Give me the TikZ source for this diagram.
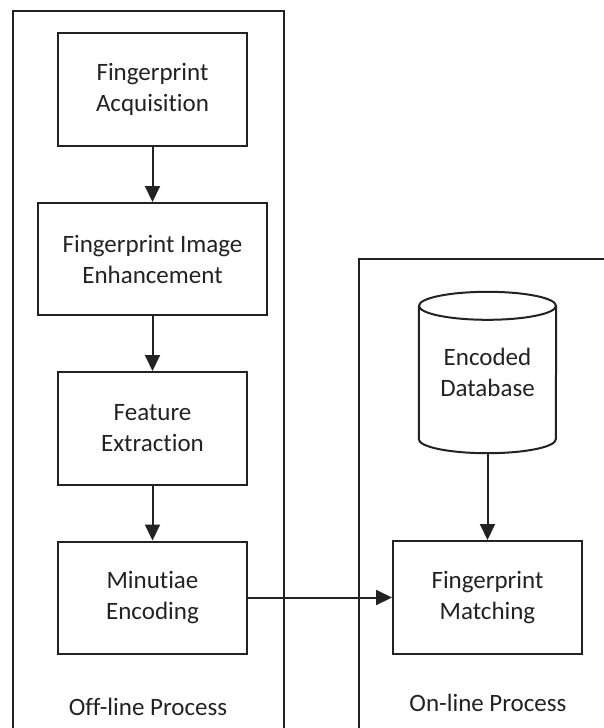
\documentclass[tikz,border=0pt]{standalone}
\usepackage{fontspec}
\setmainfont{Carlito}[Ligatures={NoCommon,NoRare,NoContextual}]
\usetikzlibrary{arrows.meta,calc}
\definecolor{ink}{HTML}{222222}
\tikzset{
  procbox/.style={draw=ink, line width=2pt, minimum width=189pt, minimum height=113pt, align=center, text=ink, inner sep=0pt, font=\fontsize{25}{31}\selectfont},
  conn/.style={draw=ink, line width=2pt, -{Triangle[length=16pt,width=15pt]}},
  frame/.style={draw=ink, line width=2pt},
  lbl/.style={text=ink, font=\fontsize{25}{31}\selectfont, inner sep=0pt}
}
\begin{document}
\begin{tikzpicture}[x=1pt,y=-1pt]
\useasboundingbox (0,0) rectangle (603,728);
% containers
\draw[frame] (13,730) -- (13,11) -- (284,11) -- (284,730);
\draw[frame] (359,730) -- (359,259) -- (605,259);
% boxes
\node[procbox] (acq) at (152.5,89.5) {Fingerprint\\Acquisition};
\node[procbox, minimum width=229pt, minimum height=112pt] (enh) at (152.5,259) {Fingerprint Image\\Enhancement};
\node[procbox] (feat) at (152.5,428.5) {Feature\\Extraction};
\node[procbox, minimum height=112pt] (enc) at (152.5,597.5) {Minutiae\\Encoding};
\node[procbox] (match) at (487.5,597.5) {Fingerprint\\Matching};
% database cylinder
\node[draw=none, minimum width=137pt, minimum height=161pt, inner sep=0pt, align=center, text=ink, font=\fontsize{25}{31}\selectfont] (db) at (487.5,372.5) {Encoded\\Database};
\draw[frame] ($(db.north)+(0,14)$) ellipse [x radius=68.5, y radius=14];
\draw[frame] ($(db.north west)+(0,14)$) -- ($(db.south west)+(0,-14)$)
  arc[start angle=180, end angle=360, x radius=68.5, y radius=-14]
  -- ($(db.north east)+(0,14)$);
% connectors
\draw[conn] (acq) -- (enh);
\draw[conn] (enh) -- (feat);
\draw[conn] (feat) -- (enc);
\draw[conn] (db.south) -- (match.north);
\draw[conn] (enc.east) -- (match.west);
% labels
\node[lbl] (offl) at (148,707) {Off-line Process};
\node[lbl] (onl) at (488,703) {On-line Process};
\end{tikzpicture}
\end{document}
